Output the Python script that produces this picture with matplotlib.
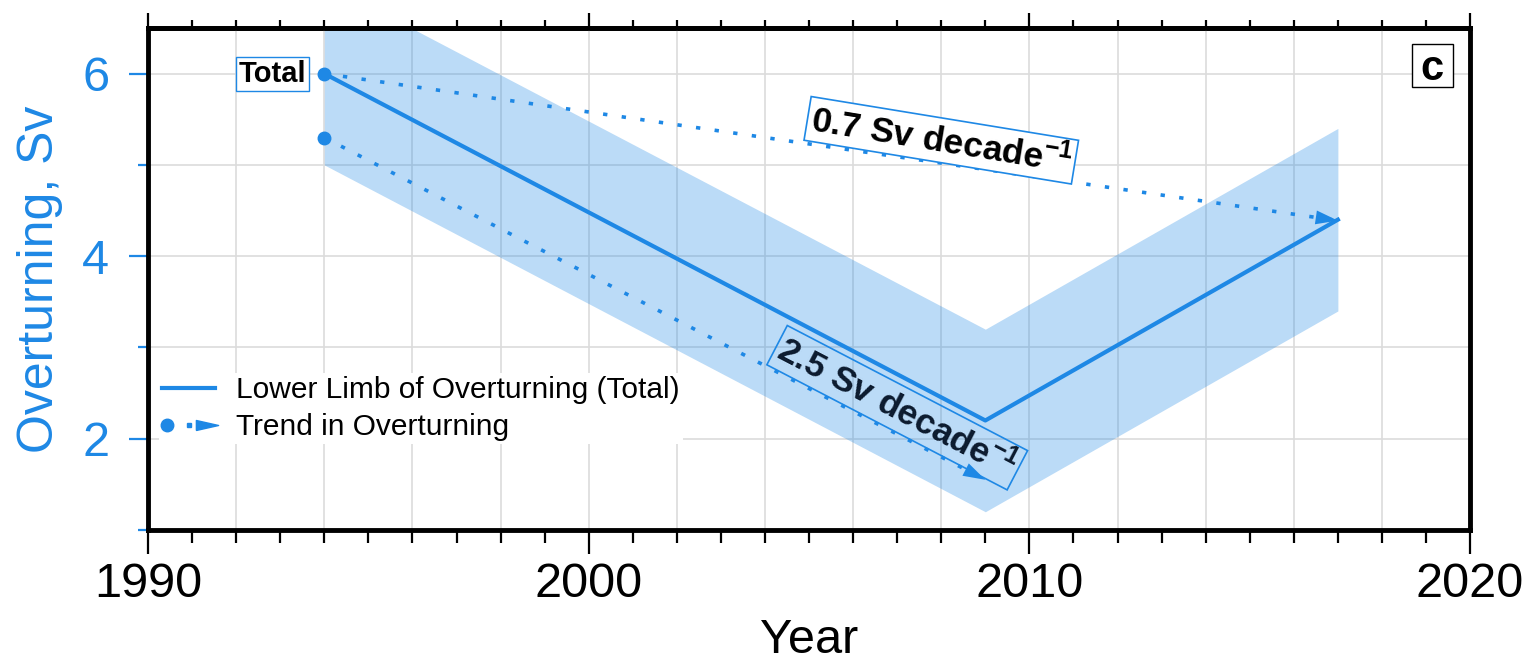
import numpy as np
import matplotlib
matplotlib.use("Agg")
from matplotlib import pyplot as plt
from matplotlib.lines import Line2D
from matplotlib.patches import Rectangle
from matplotlib.legend_handler import HandlerBase

plt.rcParams['font.family'] = ['Liberation Sans', 'DejaVu Sans']
plt.rcParams['mathtext.fontset'] = 'custom'
plt.rcParams['mathtext.rm'] = 'Liberation Sans'
plt.rcParams['mathtext.bf'] = 'Liberation Sans:bold'

# lower limb of the overturning (total) and its uncertainty
years = [1994, 2009, 2017]
overturning = [6.0, 2.2, 4.4]
uncertainty = [1.0, 1.0, 1.0]

# linear trends, Sv per decade, starting in 1994
trend_start_year = 1994
trend_start = [6.0, 5.3]
trend_end_year = [2017, 2009]
trend_rate = [-0.7, -2.5]
trend_text = [r'0.7 Sv decade$^{\mathbf{-1}}$', r'2.5 Sv decade$^{\mathbf{-1}}$']

xticks_major = [1990, 2000, 2010, 2020]
xticks_minor = np.arange(1990, 2021, 1)
yticks_major = [2, 4, 6]
yticks_minor = [1, 3, 5]

blue = '#1E88E5'

fig = plt.figure(figsize=(15.28, 6.67), dpi=100)
ax = fig.add_axes([0.0969, 0.2054, 0.8652, 0.7526])

ax.set_xlim(1990, 2020)
ax.set_ylim(1, 6.5)

# light grid: every 2 years, every 1 Sv
for gx in np.arange(1992, 2020, 2):
    ax.axvline(gx, color='#dcdcdc', lw=1.2, zorder=0.5)
for gy in np.arange(2, 7, 1):
    ax.axhline(gy, color='#dcdcdc', lw=1.2, zorder=0.5)

ov = np.array(overturning)
err = np.array(uncertainty)
ax.fill_between(years, ov - err, ov + err, color=blue, alpha=0.3, lw=0, zorder=1)
ax.plot(years, ov, color=blue, lw=3, zorder=3)

# trend arrows
for s, y1, r in zip(trend_start, trend_end_year, trend_rate):
    y_end = s + r / 10.0 * (y1 - trend_start_year)
    ax.plot([trend_start_year, y1], [s, y_end], color=blue, lw=2.6,
            ls=(0, (1.2, 4)), dash_capstyle='butt', zorder=3)
    ax.plot(trend_start_year, s, 'o', color=blue, ms=9, zorder=4)
    ax.annotate('', xy=(y1, y_end), xytext=(y1 - 0.3, y_end - 0.3 * r / 10.0),
                arrowprops=dict(arrowstyle='-|>,head_length=0.8,head_width=0.25',
                                color=blue, lw=0, shrinkA=0, shrinkB=0,
                                mutation_scale=20), zorder=4)

ax.text(2008.0, 5.27, trend_text[0], rotation=-9.3, rotation_mode='anchor',
        ha='center', va='center', fontsize=25.5, weight='bold', color='black',
        bbox=dict(boxstyle='square,pad=0.1', fc='white', ec=blue, lw=1.2), zorder=5)
ax.text(2007.0, 2.34, trend_text[1], rotation=-27.5, rotation_mode='anchor',
        ha='center', va='center', fontsize=25.5, weight='bold', color='#0b1a2e',
        bbox=dict(boxstyle='square,pad=0.1', fc='none', ec=blue, lw=1.2), zorder=5)

ax.annotate('Total', xy=(trend_start_year, trend_start[0]), xytext=(-13, 0),
            textcoords='offset points', ha='right', va='center',
            fontsize=21, weight='bold',
            bbox=dict(boxstyle='square,pad=0.1', fc='white', ec=blue, lw=1), zorder=5)

# panel letter
ax.add_patch(Rectangle((0.956, 0.8825), 0.031, 0.0855, transform=ax.transAxes,
                       fc='white', ec='black', lw=1, zorder=5))
ax.text(0.9715, 0.896, 'c', transform=ax.transAxes, ha='center', va='baseline',
        fontsize=30, weight='bold', zorder=6)


class TrendHandler(HandlerBase):
    def create_artists(self, legend, orig_handle, xdescent, ydescent,
                       width, height, fontsize, trans):
        x0 = -xdescent
        yc = -ydescent + height / 2.0
        head = [(-1, -0.45), (1, 0), (-1, 0.45), (-1, -0.45)]
        a = Line2D([x0 + 0.1 * width], [yc], marker='o', ms=9, color=blue, ls='none')
        b = Line2D([x0 + 0.5 * width], [yc], marker='s', ms=3.5, color=blue, ls='none')
        c = Line2D([x0 + 0.85 * width], [yc], marker=head, ms=16, color=blue, ls='none')
        for art in (a, b, c):
            art.set_transform(trans)
        return [a, b, c]


line_handle = Line2D([], [], color=blue, lw=3)
trend_handle = object()
leg = ax.legend([line_handle, trend_handle],
                ['Lower Limb of Overturning (Total)', 'Trend in Overturning'],
                handler_map={trend_handle.__class__: TrendHandler()},
                loc='upper left', bbox_to_anchor=(0.008, 0.312), borderaxespad=0,
                fontsize=21.5, frameon=True, fancybox=False, framealpha=1,
                edgecolor='none', facecolor='white', labelspacing=0.3,
                handlelength=1.8, handletextpad=0.7, borderpad=0.1)
leg.set_zorder(6)

# axes frame and ticks
for sp in ax.spines.values():
    sp.set_linewidth(3.5)
    sp.set_zorder(7)

ax.set_xticks(xticks_major)
ax.set_xticks(xticks_minor, minor=True)
ax.set_yticks(yticks_major)
ax.set_yticks(yticks_minor, minor=True)
ax.tick_params(axis='x', which='major', direction='out', length=17, width=1.6,
               labelsize=35, pad=6, top=False, bottom=True)
ax.tick_params(axis='x', which='minor', direction='out', length=9, width=1.6,
               top=False, bottom=True)
ax.tick_params(axis='y', which='major', direction='out', length=14, width=1.6,
               labelsize=35, pad=14, colors=blue, right=False)
ax.tick_params(axis='y', which='minor', direction='out', length=7, width=1.6,
               colors=blue, right=False)

secax = ax.secondary_xaxis('top')
secax.set_xticks(xticks_major)
secax.set_xticks(xticks_minor, minor=True)
secax.tick_params(axis='x', which='major', direction='out', length=11, width=1.6,
                  labeltop=False)
secax.tick_params(axis='x', which='minor', direction='out', length=6, width=1.6)
secax.spines['top'].set_linewidth(3.5)

ax.set_xlabel('Year', fontsize=35)
ax.xaxis.set_label_coords(0.5, -0.175)
ax.set_ylabel('Overturning, Sv', fontsize=36, color=blue)
ax.yaxis.set_label_coords(-0.064, 0.5)

fig.savefig('out.png', dpi=100)
